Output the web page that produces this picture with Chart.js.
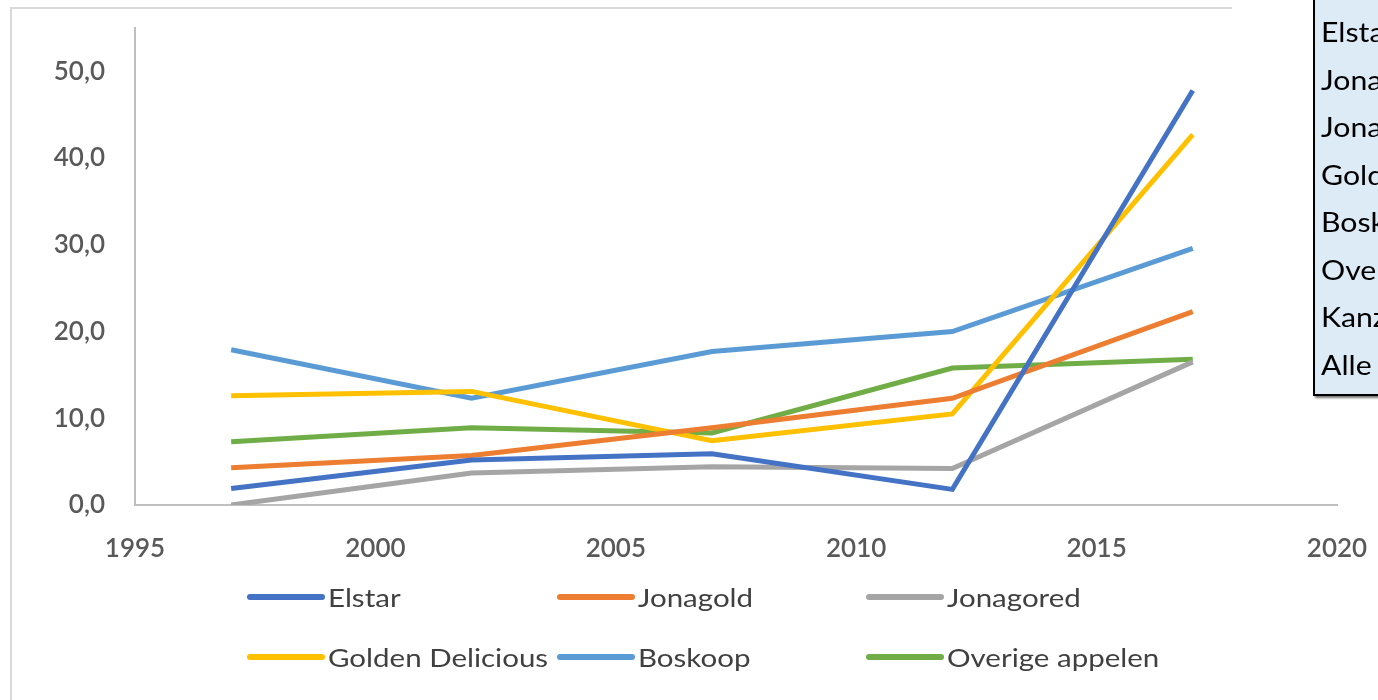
<!DOCTYPE html>
<html>
<head>
<meta charset="utf-8">
<script src="https://cdn.jsdelivr.net/npm/chart.js@4"></script>
<style>
  body { margin: 0; background: #fff; width: 1378px; height: 700px; overflow: hidden; position: relative; font-family: Lato, "Open Sans", sans-serif; }
  #frame { position: absolute; left: 10px; top: 7px; width: 1220px; height: 700px; border-top: 2px solid #d9d9d9; border-left: 2px solid #d9d9d9; }
  #wrap { position: absolute; left: 0; top: 0; width: 1378px; height: 700px; }
  #legend { position: absolute; left: 0; top: 0; }
  .item { position: absolute; display: flex; align-items: center; font-size: 25px; color: #404040; white-space: nowrap; }
  .item .txt { display: inline-block; transform: scaleX(1.18); transform-origin: left center; }
  .swatch { width: 78px; height: 6px; border-radius: 3px; margin-right: 3px; }
  #table { position: absolute; left: 1313px; top: -4px; width: 100px; height: 396px; background: #ddebf7; border: 2px solid #000; box-shadow: 2px 2px 2px #777; overflow: hidden; }
  #table div { position: absolute; left: 6px; font-size: 27px; color: #000; white-space: nowrap; transform: scaleX(1.12); transform-origin: left center; }
</style>
</head>
<body>
<div id="frame"></div>
<div id="wrap"><canvas id="appelChart" width="1378" height="700"></canvas></div>
<div id="legend"></div>
<div id="table"></div>
<script>
  // Data
  const years = [1997, 2002, 2007, 2012, 2017];
  const elstar = [1.9, 5.2, 5.9, 1.8, 47.8];
  const jonagold = [4.3, 5.7, 8.9, 12.3, 22.3];
  const jonagored = [0.0, 3.7, 4.4, 4.2, 16.5];
  const goldenDelicious = [12.6, 13.1, 7.4, 10.5, 42.7];
  const boskoop = [17.9, 12.3, 17.7, 20.0, 29.6];
  const overige = [7.3, 8.9, 8.3, 15.8, 16.8];

  const seriesNames = ['Elstar', 'Jonagold', 'Jonagored', 'Golden Delicious', 'Boskoop', 'Overige appelen'];
  const seriesValues = [elstar, jonagold, jonagored, goldenDelicious, boskoop, overige];
  const colors = ['#4472c4', '#ed7d31', '#a5a5a5', '#ffc000', '#5b9bd5', '#70ad47'];
  const tableRows = ['Elstar', 'Jonagold', 'Jonagored', 'Golden Delicious', 'Boskoop', 'Overige appelen', 'Kanzi', 'Alle appelen'];

  const tickFont = { family: 'Lato', size: 26, weight: '600' };

  const datasets = seriesNames.map((name, i) => ({
    label: name,
    data: years.map((y, j) => ({ x: y, y: seriesValues[i][j] })),
    borderColor: colors[i],
    backgroundColor: colors[i],
    borderWidth: 5,
    pointRadius: 0,
    tension: 0
  }));

  const ctx = document.getElementById('appelChart').getContext('2d');
  const chart = new Chart(ctx, {
    type: 'line',
    data: { datasets: datasets },
    options: {
      responsive: false,
      animation: false,
      devicePixelRatio: 1,
      layout: { padding: { top: 28, right: 41, left: 0, bottom: 0 } },
      plugins: { legend: { display: false }, tooltip: { enabled: false } },
      scales: {
        x: {
          type: 'linear',
          min: 1995,
          max: 2020,
          grid: { display: false, drawTicks: false },
          border: { display: true, color: '#bfbfbf', width: 2 },
          ticks: { stepSize: 5, padding: 28, color: '#595959', font: tickFont, maxRotation: 0, callback: v => String(v) },
          afterFit: s => { s.height = 195; s.paddingLeft = 0; s.paddingRight = 0; }
        },
        y: {
          min: 0,
          max: 55,
          grid: { display: false, drawTicks: false },
          border: { display: true, color: '#bfbfbf', width: 2 },
          ticks: { stepSize: 10, padding: 30, color: '#595959', font: tickFont,
                   callback: v => v.toFixed(1).replace('.', ',') },
          afterBuildTicks: s => { s.ticks = s.ticks.filter(t => t.value % 10 === 0); },
          afterFit: s => { s.width = 135; s.paddingTop = 0; s.paddingBottom = 0; }
        }
      }
    }
  });

  // HTML legend, 3 columns
  const legend = document.getElementById('legend');
  const colX = [247, 557, 866];
  const rowY = [598, 658];
  seriesNames.forEach((name, i) => {
    const el = document.createElement('div');
    el.className = 'item';
    el.style.left = colX[i % 3] + 'px';
    el.style.top = (rowY[Math.floor(i / 3)] - 16) + 'px';
    el.innerHTML = '<span class="swatch" style="background:' + colors[i] + '"></span><span class="txt">' + name + '</span>';
    legend.appendChild(el);
  });

  // Clipped table on the right
  const table = document.getElementById('table');
  tableRows.forEach((t, i) => {
    const el = document.createElement('div');
    el.style.top = (17 + i * 47.5) + 'px';
    el.textContent = t;
    table.appendChild(el);
  });
</script>
</body>
</html>
